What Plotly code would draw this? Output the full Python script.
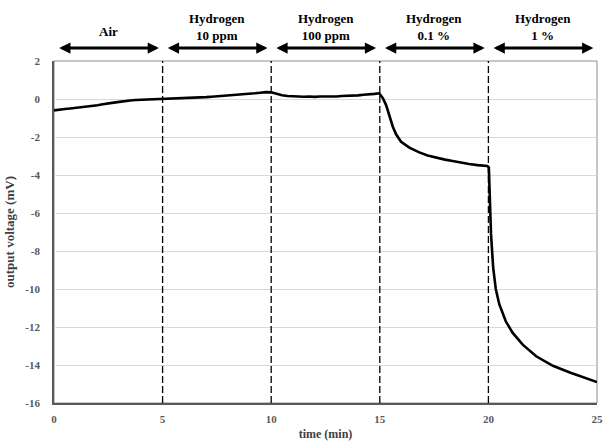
import plotly.graph_objects as go

# ---- data ----
time_min = [0, 0.25, 0.5, 0.75, 1, 1.25, 1.5, 1.75, 2, 2.25, 2.5, 2.75, 3, 3.25, 3.5,
            3.75, 4, 4.25, 4.5, 4.75, 5,
            5.25, 5.5, 5.75, 6, 6.25, 6.5, 6.75, 7, 7.25, 7.5, 7.75, 8, 8.25, 8.5,
            8.75, 9, 9.25, 9.5, 9.75, 10,
            10.25, 10.5, 10.75, 11, 11.25, 11.5, 11.75, 12, 12.25, 12.5, 12.75, 13,
            13.25, 13.5, 13.75, 14, 14.25, 14.5, 14.75, 14.97,
            15.14, 15.29, 15.44, 15.6, 15.75, 15.98, 16.36, 16.82, 17.2, 17.58, 18.0,
            18.35, 18.7, 19.11, 19.5, 19.95,
            20.02, 20.06, 20.12, 20.22, 20.34, 20.5, 20.8, 21.11, 21.58, 22.2,
            22.97, 23.75, 24.37, 25]
voltage_mV = [-0.6, -0.55, -0.53, -0.5, -0.47, -0.44, -0.41, -0.36, -0.33, -0.28, -0.25,
              -0.19, -0.15, -0.1, -0.08, -0.05, -0.04, -0.02, -0.01, -0.02, 0.0,
              0.01, 0.02, 0.02, 0.05, 0.04, 0.08, 0.07, 0.1, 0.12, 0.14, 0.15, 0.18,
              0.19, 0.23, 0.24, 0.28, 0.3, 0.33, 0.36, 0.35,
              0.26, 0.2, 0.16, 0.14, 0.15, 0.12, 0.13, 0.11, 0.13, 0.12, 0.14, 0.13,
              0.16, 0.16, 0.19, 0.19, 0.22, 0.23, 0.27, 0.3,
              0.04, -0.32, -0.90, -1.46, -1.86, -2.25, -2.56, -2.81, -2.97, -3.09, -3.19,
              -3.26, -3.34, -3.42, -3.48, -3.53,
              -3.6, -5.36, -7.1, -8.88, -10.0, -10.8, -11.7, -12.3, -12.93, -13.54,
              -14.04, -14.39, -14.63, -14.9]

phase_start = [0, 5, 10, 15, 20]
phase_end = [5, 10, 15, 20, 25]
phase_labels = ["Air", "Hydrogen<br>10 ppm", "Hydrogen<br>100 ppm",
                "Hydrogen<br>0.1 %", "Hydrogen<br>1 %"]
boundaries = [5, 10, 15, 20]

x_ticks = [0, 5, 10, 15, 20, 25]
y_ticks = [2, 0, -2, -4, -6, -8, -10, -12, -14, -16]

SERIF = "Liberation Serif, Times New Roman, serif"

fig = go.Figure()
fig.add_trace(go.Scatter(x=time_min, y=voltage_mV, mode="lines",
                         line=dict(color="black", width=2.6), showlegend=False,
                         hoverinfo="skip"))

# plot frame (light top/right border)
fig.add_shape(type="rect", xref="paper", yref="paper", x0=0, x1=1, y0=0, y1=1,
              line=dict(color="#8c8c8c", width=1), layer="below")

for b in boundaries:
    fig.add_shape(type="line", xref="x", yref="y", x0=b, x1=b, y0=-16, y1=2,
                  line=dict(color="black", width=1.3, dash="7px,3px"), layer="above")

for s, e, lab in zip(phase_start, phase_end, phase_labels):
    fig.add_annotation(x=e - 0.17, y=1.038, xref="x", yref="paper",
                       ax=s + 0.17, ay=0, axref="x", ayref="pixel",
                       showarrow=True, arrowside="end+start", arrowhead=2,
                       arrowsize=0.75, arrowwidth=3, arrowcolor="black",
                       standoff=0, startstandoff=0, text="")
    two = "<br>" in lab
    fig.add_annotation(x=(s + e) / 2, y=1.0994 if two else 1.0877,
                       xref="x", yref="paper", text="<b>%s</b>" % lab,
                       showarrow=False, xanchor="center", yanchor="middle",
                       font=dict(family=SERIF, size=13, color="black"))

fig.update_layout(
    width=604, height=445,
    margin=dict(l=53.5, r=7, t=61, b=42, autoexpand=False),
    paper_bgcolor="white", plot_bgcolor="white",
    font=dict(family=SERIF, color="#595959"),
    xaxis=dict(range=[0, 25], tickvals=x_ticks,
               ticktext=["<b>%d</b>" % v for v in x_ticks],
               showgrid=False, zeroline=False, showline=True,
               linecolor="#595959", linewidth=1.6, ticks="",
               tickfont=dict(family=SERIF, size=11, color="#595959"),
               ticklabelstandoff=5,
               title=dict(text="<b>time (min)</b>", standoff=6,
                          font=dict(family=SERIF, size=12, color="#404040"))),
    yaxis=dict(range=[-16, 2], tickvals=y_ticks,
               ticktext=["<b>%d</b>" % v for v in y_ticks],
               showgrid=True, gridcolor="#d9d9d9", gridwidth=1.2,
               zeroline=False, showline=True,
               linecolor="#595959", linewidth=1.6, ticks="",
               tickfont=dict(family=SERIF, size=11, color="#595959"),
               ticklabelstandoff=10,
               title=dict(text="<b>output voltage (mV)</b>", standoff=8,
                          font=dict(family=SERIF, size=13, color="#404040"))),
)

fig.write_html("out.html", config={"displayModeBar": False},
               post_script="document.body.style.margin='0';document.body.style.overflow='hidden';")
